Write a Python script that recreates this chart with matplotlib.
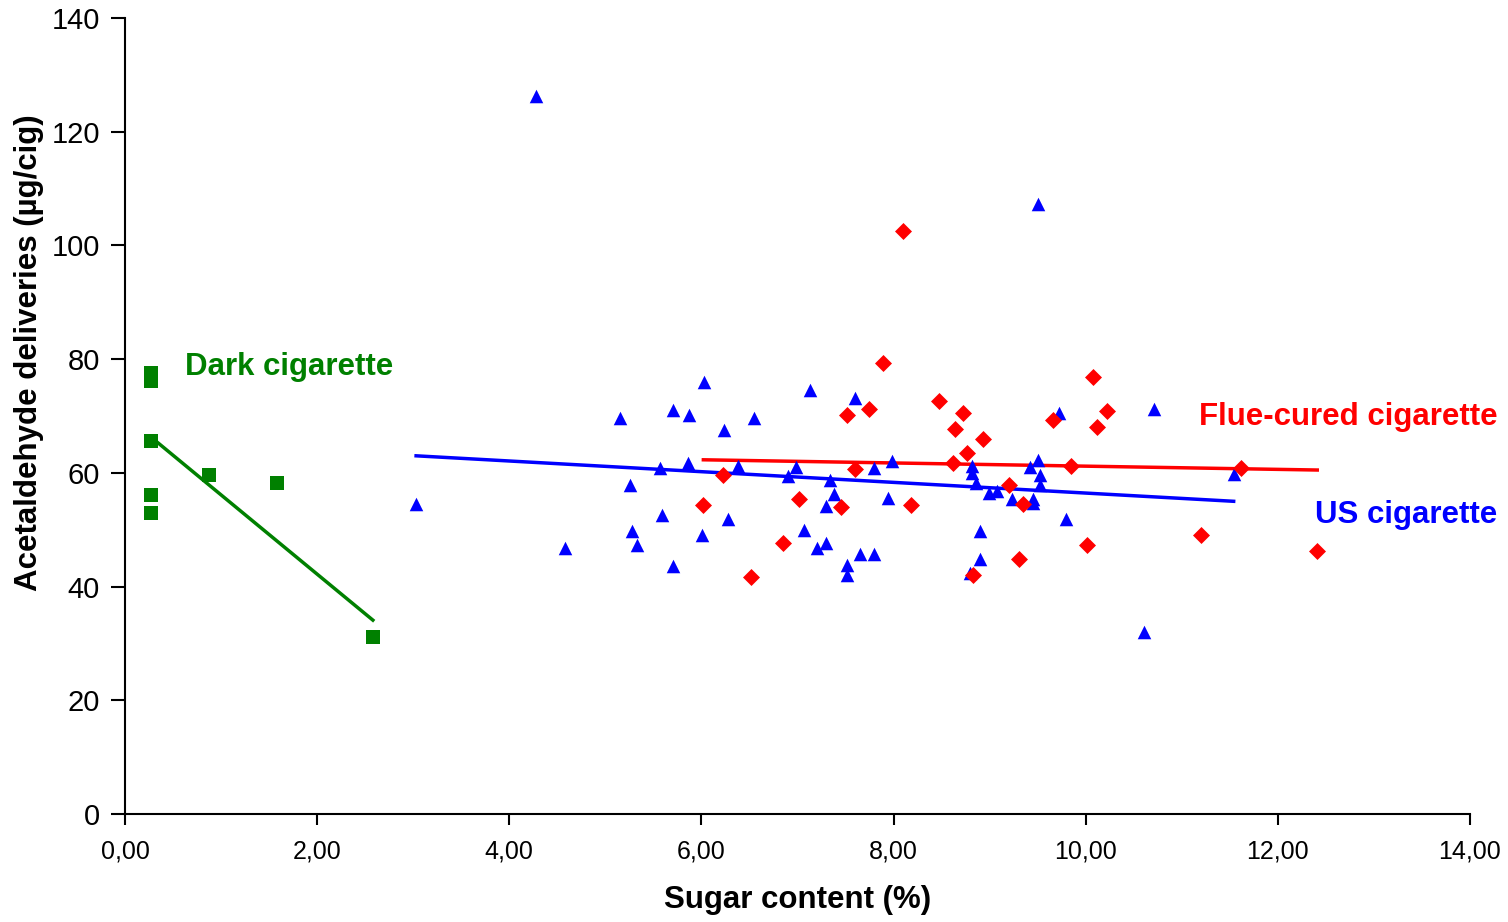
"""
Acetaldehyde deliveries versus sugar content for three cigarette types.
"""
import matplotlib
matplotlib.use("Agg")
import matplotlib.pyplot as plt
from matplotlib.ticker import FuncFormatter

plt.rcParams["font.family"] = ["Liberation Sans", "DejaVu Sans"]

# Dark cigarettes
dark_sugar = [0.27, 0.27, 0.27, 0.27, 0.27, 0.87, 1.58, 2.58]
dark_acet = [77.6, 76.2, 65.6, 56.1, 52.9, 59.6, 58.2, 31.1]

# US blended cigarettes
us_sugar = [4.28, 9.50, 3.03, 4.58, 5.15, 5.26, 5.28, 5.33, 5.57, 5.59,
            5.70, 5.70, 5.87, 5.86, 6.03, 6.01, 6.24, 6.28, 6.38, 6.55,
            6.90, 6.98, 7.07, 7.13, 7.20, 7.30, 7.30, 7.34, 7.38, 7.52,
            7.51, 7.60, 7.65, 7.80, 7.80, 7.94, 7.98, 8.82, 8.82, 8.86,
            8.99, 9.08, 9.23, 9.42, 9.50, 9.52, 9.52, 9.45, 9.45, 9.79,
            8.90, 8.90, 8.80, 9.72, 10.71, 10.61, 11.54]
us_acet = [126.3, 107.3, 54.5, 46.8, 69.6, 57.9, 49.8, 47.3, 60.9, 52.6,
           43.6, 71.1, 70.2, 61.7, 76.0, 49.1, 67.5, 51.9, 61.2, 69.6,
           59.4, 61.0, 49.9, 74.6, 46.8, 47.7, 54.2, 58.7, 56.3, 43.8,
           42.0, 73.2, 45.7, 45.7, 60.9, 55.6, 62.1, 61.2, 60.0, 58.2,
           56.5, 56.8, 55.4, 61.0, 62.3, 59.6, 57.9, 55.4, 54.7, 51.9,
           49.8, 44.8, 42.4, 70.5, 71.2, 32.0, 59.8]

# Flue-cured cigarettes
fc_sugar = [8.10, 7.89, 7.52, 7.74, 6.22, 7.60, 6.02, 7.02, 7.45, 6.85,
            6.52, 8.47, 8.72, 8.64, 8.93, 8.76, 9.66, 10.08, 10.22, 10.12,
            8.62, 9.85, 9.20, 9.35, 8.18, 10.01, 9.31, 8.83, 11.20, 11.62,
            12.41]
fc_acet = [102.5, 79.3, 70.2, 71.2, 59.6, 60.7, 54.3, 55.4, 54.0, 47.7,
           41.7, 72.6, 70.5, 67.7, 66.0, 63.5, 69.3, 76.9, 70.9, 68.1,
           61.7, 61.2, 57.9, 54.5, 54.3, 47.3, 44.8, 42.0, 49.1, 60.9,
           46.3]

# Linear trend values at the lowest and highest sugar content of each group
dark_trend = [66.3, 34.1]
us_trend = [63.0, 55.0]
fc_trend = [62.3, 60.5]

GREEN = "#008000"
BLUE = "#0000FF"
RED = "#FF0000"

fig = plt.figure(figsize=(15.08, 9.22), dpi=100)
ax = fig.add_axes([0.0829, 0.1171, 0.8919, 0.8634])

ax.scatter(us_sugar, us_acet, marker="^", s=95, color=BLUE, linewidths=0, zorder=3)
ax.scatter(fc_sugar, fc_acet, marker="D", s=75, color=RED, linewidths=0, zorder=3)
ax.scatter(dark_sugar, dark_acet, marker="s", s=90, color=GREEN, linewidths=0, zorder=3)

ax.plot([min(dark_sugar), max(dark_sugar)], dark_trend, color=GREEN, linewidth=2.5, zorder=2)
ax.plot([min(us_sugar), max(us_sugar)], us_trend, color=BLUE, linewidth=2.5, zorder=2)
ax.plot([min(fc_sugar), max(fc_sugar)], fc_trend, color=RED, linewidth=2.5, zorder=2)

label_font = dict(fontsize=22.5, fontweight="bold", va="baseline", ha="left")
ax.text(0.625, 77.2, "Dark cigarette", color=GREEN, **label_font)
ax.text(11.18, 68.4, "Flue-cured cigarette", color=RED, clip_on=False, **label_font)
ax.text(12.39, 51.2, "US cigarette", color=BLUE, clip_on=False, **label_font)

ax.set_xlim(0, 14)
ax.set_ylim(0, 140)
ax.set_xticks(range(0, 15, 2))
ax.set_yticks(range(0, 141, 20))
ax.xaxis.set_major_formatter(FuncFormatter(lambda v, pos: f"{v:.2f}".replace(".", ",")))

for side in ("top", "right"):
    ax.spines[side].set_visible(False)
for side in ("left", "bottom"):
    ax.spines[side].set_linewidth(1.5)

ax.tick_params(axis="y", direction="out", length=10, width=1.5, labelsize=21, pad=8)
ax.tick_params(axis="x", direction="out", length=8, width=1.5, labelsize=18, pad=10)

ax.set_xlabel("Sugar content (%)", fontsize=22.5, fontweight="bold", labelpad=16)
ax.set_ylabel("Acetaldehyde deliveries (µg/cig)", fontsize=22.5, fontweight="bold")
ax.yaxis.set_label_coords(-0.060, 0.579)

fig.savefig("out.png", dpi=100)
plt.close(fig)
